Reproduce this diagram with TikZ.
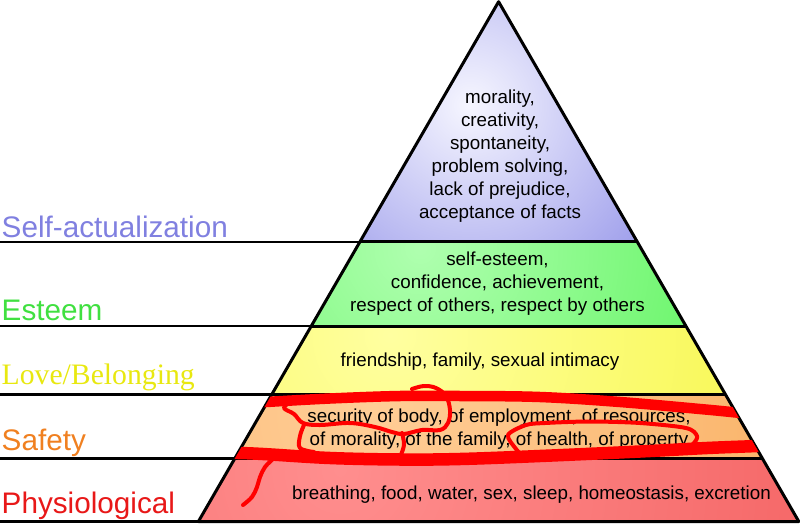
\documentclass[tikz,border=0pt]{standalone}
\usepackage{fontspec}
\setmainfont{Liberation Sans}
\newfontfamily\seriflab{Liberation Serif}
\definecolor{topO}{RGB}{118,118,226}
\definecolor{topI}{RGB}{246,246,255}
\definecolor{grnO}{RGB}{70,240,70}
\definecolor{grnI}{RGB}{175,255,175}
\definecolor{yelO}{RGB}{245,245,55}
\definecolor{yelI}{RGB}{255,255,160}
\definecolor{orgO}{RGB}{246,164,78}
\definecolor{orgI}{RGB}{255,205,150}
\definecolor{redO}{RGB}{238,76,76}
\definecolor{redI}{RGB}{255,142,142}
\definecolor{selfC}{RGB}{128,128,224}
\definecolor{estC}{RGB}{64,224,64}
\definecolor{loveC}{RGB}{232,232,16}
\definecolor{safeC}{RGB}{240,128,32}
\definecolor{physC}{RGB}{232,24,24}
\definecolor{scribC}{RGB}{255,0,0}
\begin{document}
\begin{tikzpicture}[x=1pt,y=-1pt,
  biglab/.style={inner sep=0pt, font=\fontsize{29.7}{35}\selectfont, anchor=base west},
  intext/.style={inner sep=0pt, font=\fontsize{18.8}{23}\selectfont, align=center, text=black},
  edge/.style={draw=black, line width=3pt, line join=round},
  rule/.style={draw=black, line width=2.3pt},
  band/.style={draw=scribC, line width=10.5pt, line cap=round, line join=round},
  scrib/.style={draw=scribC, line width=4pt, line cap=round, line join=round}]
\useasboundingbox (0,0) rectangle (800,524);
% pyramid corners
\coordinate (apex) at (498.6,1.7);
\coordinate (l1) at (360.4,241.7); \coordinate (r1) at (636.8,241.7);
\coordinate (l2) at (311.3,326);   \coordinate (r2) at (685.9,326);
\coordinate (l3) at (271.8,394.5); \coordinate (r3) at (725.4,394.5);
\coordinate (l4) at (234.8,458.5); \coordinate (r4) at (762.4,458.5);
\coordinate (l5) at (198.4,521.5); \coordinate (r5) at (798.8,521.5);
\coordinate (e1) at (0,241.7); \coordinate (e2) at (0,326);
\coordinate (e3) at (0,394.5); \coordinate (e4) at (0,458.5);
\coordinate (e5) at (0,521.5);
% layers
\begin{scope}
  \clip (apex) -- (r1) -- (l1) -- cycle;
  \fill[topO] (apex) -- (r1) -- (l1) -- cycle;
  \shade[inner color=topI, outer color=topO] (470,105) circle (320pt);
\end{scope}
\begin{scope}
  \clip (l1) -- (r1) -- (r2) -- (l2) -- cycle;
  \fill[grnO] (l1) -- (r1) -- (r2) -- (l2) -- cycle;
  \shade[inner color=grnI, outer color=grnO] (420,248) circle (460pt);
\end{scope}
\begin{scope}
  \clip (l2) -- (r2) -- (r3) -- (l3) -- cycle;
  \fill[yelO] (l2) -- (r2) -- (r3) -- (l3) -- cycle;
  \shade[inner color=yelI, outer color=yelO] (390,335) circle (520pt);
\end{scope}
\begin{scope}
  \clip (l3) -- (r3) -- (r4) -- (l4) -- cycle;
  \fill[orgO] (l3) -- (r3) -- (r4) -- (l4) -- cycle;
  \shade[inner color=orgI, outer color=orgO] (370,410) circle (700pt);
\end{scope}
\begin{scope}
  \clip (l4) -- (r4) -- (r5) -- (l5) -- cycle;
  \fill[redO] (l4) -- (r4) -- (r5) -- (l5) -- cycle;
  \shade[inner color=redI, outer color=redO] (340,470) circle (820pt);
\end{scope}
% rules and outlines
\draw[rule] (e1) -- (l1);
\draw[rule] (e2) -- (l2);
\draw[rule] (e3) -- (l3);
\draw[rule] (e4) -- (l4);
\draw[rule] (e5) -- (l5);
\draw[edge] (l1) -- (r1);
\draw[edge] (l2) -- (r2);
\draw[edge] (l3) -- (r3);
\draw[edge] (l4) -- (r4);
\draw[edge] (apex) -- (r5) -- (l5) -- cycle;
% level labels
\node[biglab, text=selfC] (lsa) at (1.5,237) {Self-actualization};
\node[biglab, text=estC] (les) at (1.5,320) {Esteem};
\node[biglab, text=loveC, font=\seriflab\fontsize{29.7}{35}\selectfont] (llo) at (1.5,384.5) {Love/Belonging};
\node[biglab, text=safeC] (lsf) at (1.5,450) {Safety};
\node[biglab, text=physC] (lph) at (1.5,513) {Physiological};
% contents
\node[intext] (tsa) at (500,155.7) {morality,\\creativity,\\spontaneity,\\problem solving,\\lack of prejudice,\\acceptance of facts};
\node[intext] (tes) at (497.5,283.5) {self-esteem,\\confidence, achievement,\\respect of others, respect by others};
\node[intext, anchor=base] (tlo) at (480,366) {friendship, family, sexual intimacy};
\node[intext] (tsf) at (499,428.7) {security of body, of employment, of resources,\\of morality, of the family, of health, of property};
\node[intext, anchor=base] (tph) at (531.5,499) {breathing, food, water, sex, sleep, homeostasis, excretion};
% red scribbles
\begin{scope}
  \clip (apex) -- (r5) -- (l5) -- cycle;
  \draw[band] plot[smooth, tension=0.6] coordinates {(250,403) (266,402) (330,398.5) (400,396) (460,396) (540,397) (620,402) (700,409) (736,412.5) (750,414)};
  \draw[band, line width=12.5pt] plot[smooth, tension=0.6] coordinates {(222,453) (238,453) (263,454) (330,458) (400,459.5) (460,459) (540,456) (640,451.5) (707,448) (757,446) (772,445)};
\end{scope}
\draw[scrib] plot[smooth, tension=0.6] coordinates {(290,402) (284,408) (294,414) (303,423) (320,425) (350,423) (375,427) (392,432) (404,434) (422,430) (440,430) (448,423) (450,410) (446,396) (436,388) (424,386) (412,389)};
\draw[scrib] plot[smooth, tension=0.6] coordinates {(304,425) (300,436) (300,448) (314,452)};
\draw[scrib] plot[smooth, tension=0.6] coordinates {(402,433) (404,445) (400,457)};
\draw[scrib] plot[smooth, tension=0.6] coordinates {(273,459) (265,467) (260,477) (257,487) (252,497) (243,505)};
\draw[scrib] plot[smooth, tension=0.5] coordinates {(522,455) (516,449) (508,435) (526,425) (545,423) (590,421.5) (640,423) (686,428) (697,436) (693,444) (683,450)};
\end{tikzpicture}
\end{document}
